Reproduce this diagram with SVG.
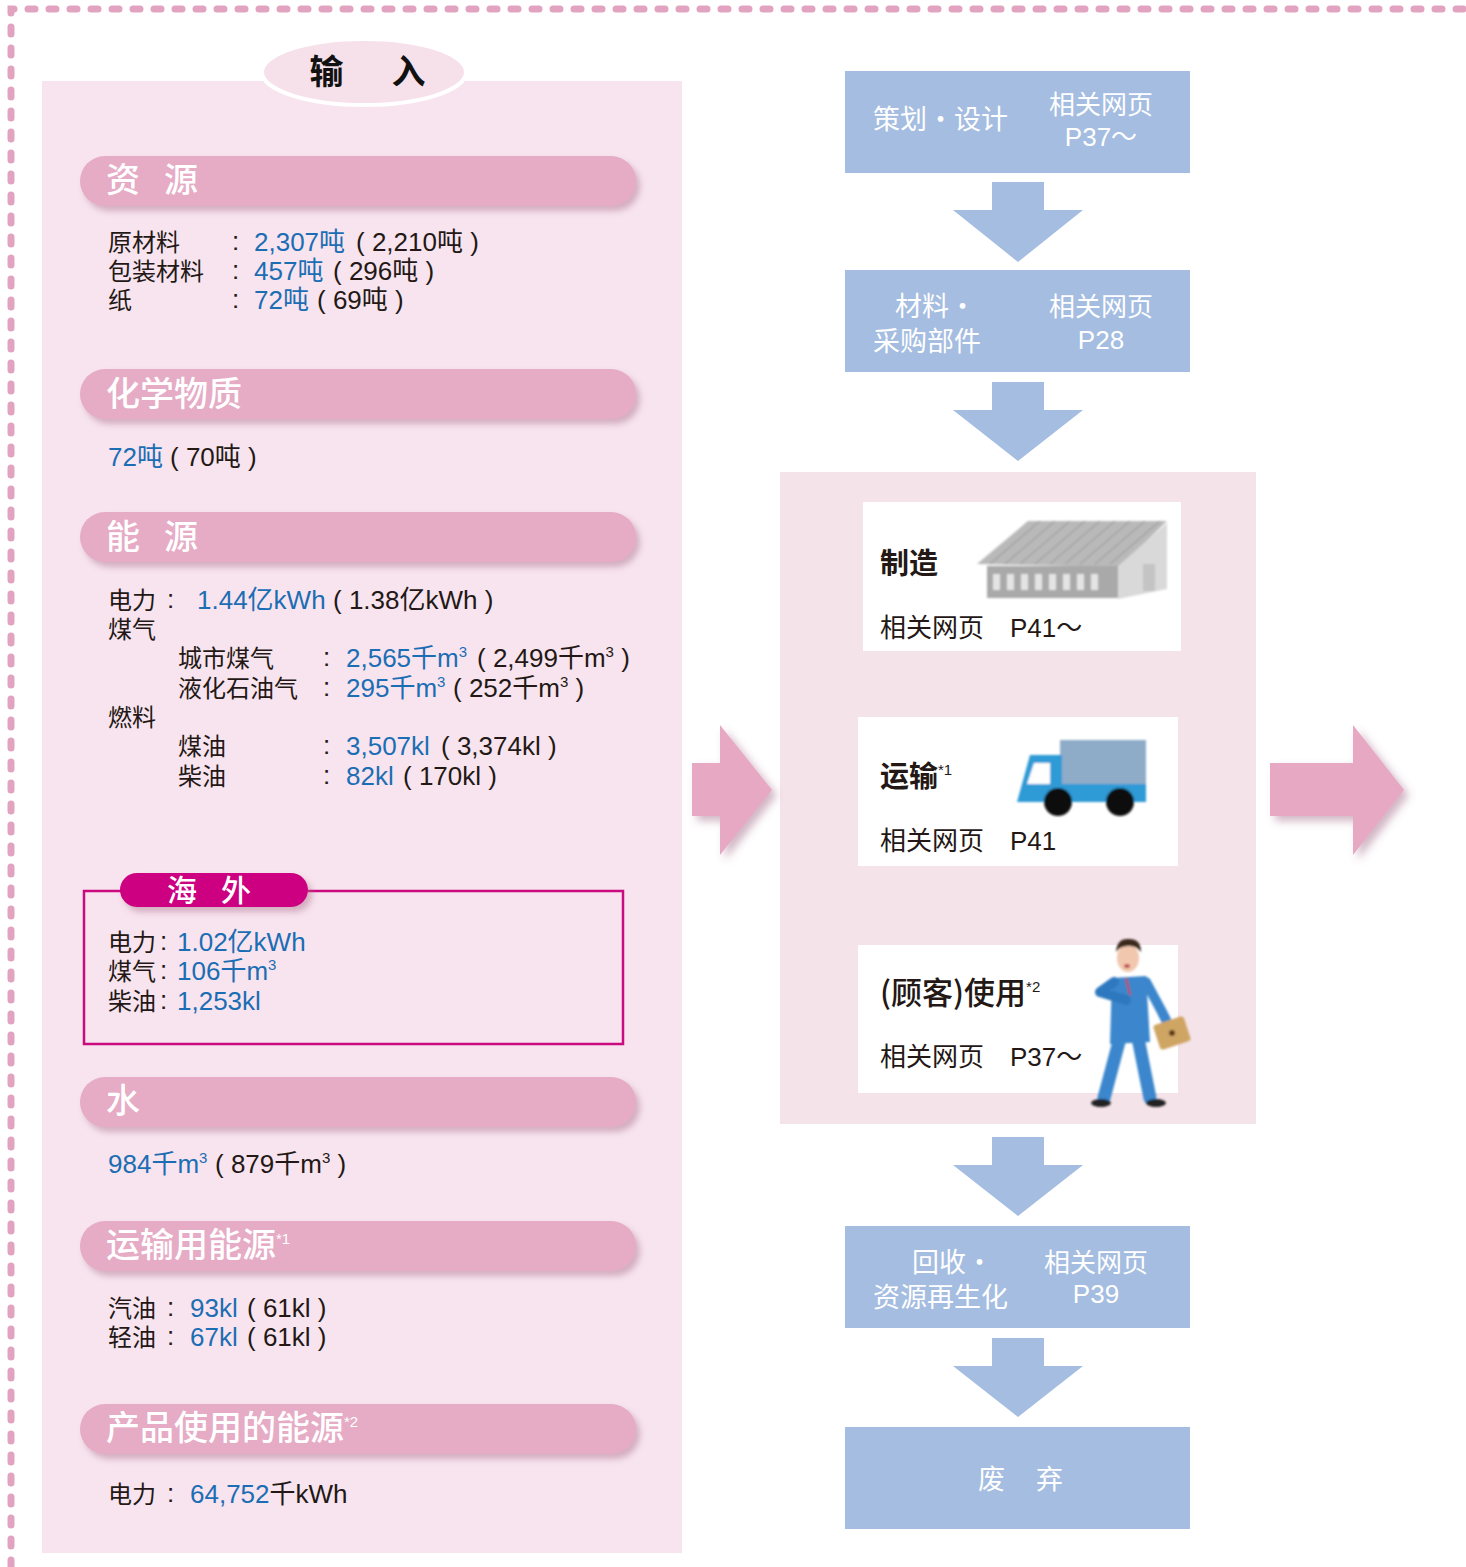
<svg xmlns="http://www.w3.org/2000/svg" width="1466" height="1567" viewBox="0 0 1466 1567">
  <defs>
    <style>
      .t { font-family: "Liberation Sans", "Noto Sans CJK SC", sans-serif; font-size: 26px; fill: #231815; }
      .c { font-family: "Noto Sans CJK SC", sans-serif; font-size: 24px; fill: #231815; }
      .v { fill: #1b6db4; }
      .ttl { font-family: "Noto Sans CJK SC", sans-serif; font-size: 34px; font-weight: 500; fill: #ffffff; }
      .pill { fill: #e6abc5; }
      .blue { fill: #a4bde0; }
      .bt { font-family: "Noto Sans CJK SC", "Liberation Sans", sans-serif; font-size: 27px; fill: #ffffff; }
      .rt { font-family: "Liberation Sans", "Noto Sans CJK SC", sans-serif; font-size: 26px; fill: #ffffff; }
      .ct { font-family: "Liberation Sans", "Noto Sans CJK SC", sans-serif; font-size: 26px; fill: #231815; }
      .cb { font-family: "Noto Sans CJK SC", sans-serif; font-size: 29px; font-weight: 700; fill: #231815; }
      .sup { font-family: "Liberation Sans", sans-serif; font-size: 15px; }
    </style>
    <filter id="pillShadow" x="-10%" y="-40%" width="125%" height="200%">
      <feDropShadow dx="4" dy="5" stdDeviation="3" flood-color="#a86a88" flood-opacity="0.45"/>
    </filter>
    <filter id="arrowShadow" x="-30%" y="-30%" width="170%" height="170%">
      <feDropShadow dx="5" dy="5" stdDeviation="4" flood-color="#9a5c7a" flood-opacity="0.45"/>
    </filter>
    <filter id="soft" x="-20%" y="-20%" width="140%" height="140%">
      <feGaussianBlur stdDeviation="0.8"/>
    </filter>
  </defs>

  <rect width="1466" height="1567" fill="#ffffff"/>

  <!-- dashed frame -->
  <path d="M 11 1567 V 9 H 1466" fill="none" stroke="#e2a3c0" stroke-width="7" stroke-linecap="round" stroke-dasharray="7 14"/>

  <!-- input panel -->
  <g id="input-panel">
    <rect x="42" y="81" width="640" height="1472" fill="#f7e4ee"/>
    <ellipse cx="364" cy="72" rx="102" ry="33" fill="#f6e0ea" stroke="#ffffff" stroke-width="4"/>
    <text x="371" y="84" text-anchor="middle" font-family="'Noto Sans CJK SC', sans-serif" font-size="34" font-weight="700" fill="#111" letter-spacing="7">输　入</text>
  </g>

  <!-- resources -->
  <g id="resources">
    <rect class="pill" x="80" y="156" width="556" height="50" rx="25" filter="url(#pillShadow)"/>
    <text class="ttl" x="106" y="192" letter-spacing="-5">资　源</text>
    <text class="c" x="108" y="251">原材料</text>
    <text class="t" x="232" y="250">:</text>
    <text class="t v" x="254" y="251">2,307吨</text>
    <text class="t" x="356" y="251">( 2,210吨 )</text>
    <text class="c" x="108" y="280">包装材料</text>
    <text class="t" x="232" y="279">:</text>
    <text class="t v" x="254" y="280">457吨</text>
    <text class="t" x="333" y="280">( 296吨 )</text>
    <text class="c" x="108" y="309">纸</text>
    <text class="t" x="232" y="308">:</text>
    <text class="t v" x="254" y="309">72吨</text>
    <text class="t" x="317" y="309">( 69吨 )</text>
  </g>

  <!-- chemicals -->
  <g id="chemicals">
    <rect class="pill" x="80" y="369" width="556" height="50" rx="25" filter="url(#pillShadow)"/>
    <text class="ttl" x="106" y="406">化学物质</text>
    <text class="t v" x="108" y="466">72吨</text>
    <text class="t" x="170" y="466">( 70吨 )</text>
  </g>

  <!-- energy -->
  <g id="energy">
    <rect class="pill" x="80" y="512" width="556" height="50" rx="25" filter="url(#pillShadow)"/>
    <text class="ttl" x="106" y="549" letter-spacing="-5">能　源</text>
    <text class="c" x="108" y="609">电力</text>
    <text class="t" x="167" y="608">:</text>
    <text class="t v" x="197" y="609">1.44亿kWh</text>
    <text class="t" x="333" y="609">( 1.38亿kWh )</text>
    <text class="c" x="108" y="638">煤气</text>
    <text class="c" x="178" y="667">城市煤气</text>
    <text class="t" x="323" y="666">:</text>
    <text class="t v" x="346" y="667">2,565千m<tspan class="sup" dy="-10">3</tspan></text>
    <text class="t" x="477" y="667">( 2,499千m<tspan class="sup" dy="-10">3</tspan><tspan dy="10"> )</tspan></text>
    <text class="c" x="178" y="697">液化石油气</text>
    <text class="t" x="323" y="696">:</text>
    <text class="t v" x="346" y="697">295千m<tspan class="sup" dy="-10">3</tspan></text>
    <text class="t" x="453" y="697">( 252千m<tspan class="sup" dy="-10">3</tspan><tspan dy="10"> )</tspan></text>
    <text class="c" x="108" y="726">燃料</text>
    <text class="c" x="178" y="755">煤油</text>
    <text class="t" x="323" y="754">:</text>
    <text class="t v" x="346" y="755">3,507kl</text>
    <text class="t" x="441" y="755">( 3,374kl )</text>
    <text class="c" x="178" y="785">柴油</text>
    <text class="t" x="323" y="784">:</text>
    <text class="t v" x="346" y="785">82kl</text>
    <text class="t" x="403" y="785">( 170kl )</text>
  </g>

  <!-- overseas -->
  <g id="overseas">
    <rect x="84" y="891" width="539" height="153" fill="none" stroke="#cc0a80" stroke-width="2.5"/>
    <rect x="120" y="873" width="188" height="34" rx="17" fill="#cc0080" filter="url(#pillShadow)"/>
    <text x="167" y="901" font-family="'Noto Sans CJK SC', sans-serif" font-size="30" font-weight="500" fill="#ffffff" letter-spacing="-3">海　外</text>
    <text class="c" x="108" y="951">电力</text>
    <text class="t" x="160" y="950">:</text>
    <text class="t v" x="177" y="951">1.02亿kWh</text>
    <text class="c" x="108" y="980">煤气</text>
    <text class="t" x="160" y="979">:</text>
    <text class="t v" x="177" y="980">106千m<tspan class="sup" dy="-10">3</tspan></text>
    <text class="c" x="108" y="1010">柴油</text>
    <text class="t" x="160" y="1009">:</text>
    <text class="t v" x="177" y="1010">1,253kl</text>
  </g>

  <!-- water -->
  <g id="water">
    <rect class="pill" x="80" y="1077" width="556" height="50" rx="25" filter="url(#pillShadow)"/>
    <text class="ttl" x="106" y="1113">水</text>
    <text class="t v" x="108" y="1173">984千m<tspan class="sup" dy="-10">3</tspan></text>
    <text class="t" x="215" y="1173">( 879千m<tspan class="sup" dy="-10">3</tspan><tspan dy="10"> )</tspan></text>
  </g>

  <!-- transport energy -->
  <g id="transport-energy">
    <rect class="pill" x="80" y="1221" width="556" height="50" rx="25" filter="url(#pillShadow)"/>
    <text class="ttl" x="106" y="1257">运输用能源<tspan class="sup" fill="#ffffff" font-size="18" dy="-13">*1</tspan></text>
    <text class="c" x="108" y="1317">汽油</text>
    <text class="t" x="167" y="1316">:</text>
    <text class="t v" x="190" y="1317">93kl</text>
    <text class="t" x="247" y="1317">( 61kl )</text>
    <text class="c" x="108" y="1346">轻油</text>
    <text class="t" x="167" y="1345">:</text>
    <text class="t v" x="190" y="1346">67kl</text>
    <text class="t" x="247" y="1346">( 61kl )</text>
  </g>

  <!-- product-use energy -->
  <g id="product-energy">
    <rect class="pill" x="80" y="1404" width="556" height="50" rx="25" filter="url(#pillShadow)"/>
    <text class="ttl" x="106" y="1440">产品使用的能源<tspan class="sup" fill="#ffffff" font-size="18" dy="-13">*2</tspan></text>
    <text class="c" x="108" y="1503">电力</text>
    <text class="t" x="167" y="1502">:</text>
    <text class="t" x="190" y="1503"><tspan class="v">64,752</tspan>千kWh</text>
  </g>

  <!-- life-cycle stages -->
  <g id="stage-plan">
    <rect class="blue" x="845" y="71" width="345" height="102"/>
    <text class="bt" x="873" y="129">策划·设计</text>
    <text class="rt" x="1101" y="114" text-anchor="middle">相关网页</text>
    <text class="rt" x="1101" y="146" text-anchor="middle">P37～</text>
  </g>
  <g id="stage-material">
    <rect class="blue" x="845" y="270" width="345" height="102"/>
    <text class="bt" x="895" y="316">材料·</text>
    <text class="bt" x="873" y="351">采购部件</text>
    <text class="rt" x="1101" y="316" text-anchor="middle">相关网页</text>
    <text class="rt" x="1101" y="349" text-anchor="middle">P28</text>
  </g>

  <g id="stage-group">
    <rect x="780" y="472" width="476" height="652" fill="#f5e3ea"/>
  </g>

  <g id="stage-manufacture">
    <rect x="863" y="502" width="318" height="149" fill="#ffffff"/>
    <text class="cb" x="880" y="574">制造</text>
    <text class="ct" x="880" y="637">相关网页　P41～</text>
    <!-- factory building -->
    <g filter="url(#soft)">
      <polygon points="977,564 1028,521 1167,521 1120,567" fill="#b9b9b9"/>
      <path d="M 990 564 L 1040 521 M 1005 564 L 1055 521 M 1020 564 L 1070 521 M 1035 564 L 1085 521 M 1050 564 L 1100 521 M 1065 564 L 1115 521 M 1080 564 L 1130 521 M 1095 564 L 1145 521 M 1110 564 L 1160 521" stroke="#a3a3a3" stroke-width="1.5"/>
      <rect x="987" y="566" width="131" height="32" fill="#a9a9a9"/>
      <g fill="#e4e4e4">
        <rect x="993" y="574" width="7" height="16"/>
        <rect x="1007" y="574" width="7" height="16"/>
        <rect x="1021" y="574" width="7" height="16"/>
        <rect x="1035" y="574" width="7" height="16"/>
        <rect x="1049" y="574" width="7" height="16"/>
        <rect x="1063" y="574" width="7" height="16"/>
        <rect x="1077" y="574" width="7" height="16"/>
        <rect x="1091" y="574" width="7" height="16"/>
      </g>
      <polygon points="1118,566 1167,523 1167,589 1118,599" fill="#d9d9d9"/>
      <rect x="1143" y="564" width="12" height="27" fill="#c4c4c4"/>
    </g>
  </g>

  <g id="stage-transport">
    <rect x="858" y="717" width="320" height="149" fill="#ffffff"/>
    <text class="cb" x="880" y="787">运输<tspan class="sup" font-weight="400" dy="-12">*1</tspan></text>
    <text class="ct" x="880" y="850">相关网页　P41</text>
    <!-- truck -->
    <g filter="url(#soft)">
      <rect x="1060" y="740" width="86" height="50" fill="#8eacc8"/>
      <polygon points="1030,755 1062,755 1062,784 1146,784 1146,802 1017,802" fill="#2f9ad6"/>
      <polygon points="1034,763 1050,763 1050,784 1027,784" fill="#ffffff"/>
      <circle cx="1058" cy="802" r="14" fill="#111111"/>
      <circle cx="1120" cy="802" r="14" fill="#111111"/>
    </g>
  </g>

  <g id="stage-use">
    <rect x="858" y="945" width="320" height="148" fill="#ffffff"/>
    <text x="880" y="1004" font-family="'Noto Sans CJK SC', sans-serif" font-size="31" font-weight="500" fill="#231815">(顾客)使用<tspan class="sup" font-weight="400" dy="-12">*2</tspan></text>
    <text class="ct" x="880" y="1066">相关网页　P37～</text>
    <!-- customer figure -->
    <g filter="url(#soft)">
      <path d="M 1120 1038 L 1104 1098" stroke="#3a86cc" stroke-width="13" stroke-linecap="round" fill="none"/>
      <path d="M 1138 1038 L 1150 1098" stroke="#3a86cc" stroke-width="13" stroke-linecap="round" fill="none"/>
      <ellipse cx="1101" cy="1103" rx="10" ry="4" fill="#222"/>
      <ellipse cx="1156" cy="1103" rx="10" ry="4" fill="#222"/>
      <polygon points="1112,978 1146,976 1150,1042 1110,1044" fill="#3a86cc"/>
      <path d="M 1146 982 L 1162 1012 L 1170 1028" stroke="#3a86cc" stroke-width="10" stroke-linecap="round" fill="none"/>
      <path d="M 1114 982 L 1100 992 L 1126 1000" stroke="#2f78bf" stroke-width="10" stroke-linecap="round" stroke-linejoin="round" fill="none"/>
      <rect x="1156" y="1020" width="32" height="26" rx="3" fill="#cfa564" transform="rotate(-18 1172 1033)"/>
      <circle cx="1172" cy="1033" r="3" fill="#5a3a1a"/>
      <path d="M 1126 978 L 1130 995" stroke="#c84040" stroke-width="2"/>
      <ellipse cx="1128" cy="958" rx="11" ry="14" fill="#f1c7ad"/>
      <path d="M 1116 952 Q 1117 938 1129 939 Q 1141 939 1141 952 Q 1136 945 1128 946 Q 1120 946 1116 952 Z" fill="#3b2a1e"/>
      <ellipse cx="1127" cy="966" rx="3" ry="2" fill="#c05050"/>
    </g>
  </g>

  <g id="stage-recycle">
    <rect class="blue" x="845" y="1226" width="345" height="102"/>
    <text class="bt" x="912" y="1272">回收·</text>
    <text class="bt" x="873" y="1307">资源再生化</text>
    <text class="rt" x="1096" y="1272" text-anchor="middle">相关网页</text>
    <text class="rt" x="1096" y="1303" text-anchor="middle">P39</text>
  </g>
  <g id="stage-disposal">
    <rect class="blue" x="845" y="1427" width="345" height="102"/>
    <text class="bt" x="978" y="1489" letter-spacing="2">废　弃</text>
  </g>

  <!-- connectors -->
  <g id="connectors">
    <g class="blue">
      <polygon points="992,182 1044,182 1044,210 1083,210 1018,262 953,210 992,210"/>
      <polygon points="992,382 1044,382 1044,410 1083,410 1018,461 953,410 992,410"/>
      <polygon points="992,1137 1044,1137 1044,1165 1083,1165 1018,1216 953,1165 992,1165"/>
      <polygon points="992,1338 1044,1338 1044,1366 1083,1366 1018,1417 953,1366 992,1366"/>
    </g>
    <g fill="#e6a8c3" filter="url(#arrowShadow)">
      <polygon points="692,763 720,763 720,725 772,790 720,855 720,816 692,816"/>
      <polygon points="1270,763 1353,763 1353,725 1404,790 1353,855 1353,816 1270,816"/>
    </g>
  </g>
</svg>
